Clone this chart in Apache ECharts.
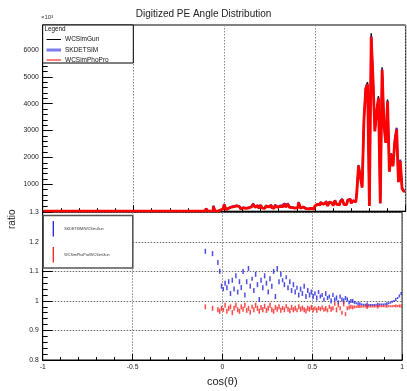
<!DOCTYPE html>
<html>
<head>
<meta charset="utf-8">
<script src="https://cdn.jsdelivr.net/npm/echarts@6/dist/echarts.min.js"></script>
<style>html,body{margin:0;padding:0;background:#fff}#c{width:407px;height:391px}</style>
</head>
<body>
<div id="c"></div>
<script>
// ---- data (bins of width 0.01 starting at cos = -0.10) ----
const binStart = -0.10;
const binWidth = 0.01;
const seriesNames = ['WCSimGun', 'SKDETSIM', 'WCSimPhoPro'];
const ratioNames = ['SKDETSIM/WCSimGun', 'WCSimPhoPro/WCSimGun'];
const xTicks = [-1, -0.5, 0, 0.5, 1];

// WCSimGun counts per bin
const gunCounts = [
  90, 0, 0, 0, 180, 0, 0, 40, 60, 100,
  260, 60, 110, 160, 120, 180, 200, 140, 170, 90,
  130, 110, 70, 130, 160, 120, 260, 150, 210, 110,
  230, 120, 110, 200, 160, 230, 140, 110, 220, 150,
  180, 210, 180, 270, 160, 270, 150, 140, 120, 170,
  130, 330, 110, 160, 100, 120, 90, 110, 120, 80,
  200, 260, 240, 330, 270, 300, 380, 200, 350, 300,
  210, 400, 260, 240, 370, 450, 260, 250, 420, 450,
  300, 400, 350, 650, 1720, 1300, 900, 3480, 4650, 4800,
  200, 6620, 4980, 3030, 3780, 4280, 300, 5360, 3280, 2590,
  4160, 1500, 2150, 1700, 2640, 3100, 1100, 1900, 850, 750
];

// SKDETSIM / WCSimGun ratio per bin
const skRatio = [
  1.168, null, null, null, 1.16, null, null, 1.13, 1.10, 1.05,
  1.04, 1.06, 1.045, 1.065, 1.025, 1.07, 1.04, 1.085, 1.03, 1.065,
  1.045, 1.10, 1.02, 1.065, 1.11, 1.05, 1.075, 1.035, 1.09, 1.055,
  1.005, 1.07, 1.045, 1.085, 1.06, 1.03, 1.075, 1.05, 1.10, 1.015,
  1.11, 1.065, 1.09, 1.07, 1.055, 1.08, 1.045, 1.065, 1.035, 1.055,
  1.03, 1.045, 1.02, 1.04, 1.025, 1.05, 1.015, 1.035, 1.02, 1.03,
  1.015, 1.025, 1.01, 1.03, 1.015, 1.02, 1.005, 1.025, 1.01, 1.015,
  1.0, 1.02, 1.005, 1.01, 0.995, 1.015, 1.005, 1.0, 1.01, 1.005,
  0.995, 1.0, 1.0, 0.995, 0.992, 0.99, 0.99, 0.988, 0.987, 0.987,
  0.986, 0.986, 0.986, 0.986, 0.986, 0.987, 0.987, 0.988, 0.988, 0.988,
  0.989, 0.99, 0.992, 0.994, 0.997, 1.0, 1.005, 1.01, 1.017, 1.025
];

// WCSimPhoPro / WCSimGun ratio per bin
const phoRatio = [
  0.98, null, null, null, 0.975, null, null, 0.97, 0.965, 0.975,
  0.97, 0.985, 0.965, 0.975, 0.98, 0.96, 0.975, 0.985, 0.97, 0.965,
  0.98, 0.972, 0.985, 0.968, 0.975, 0.962, 0.98, 0.97, 0.985, 0.975,
  0.965, 0.978, 0.97, 0.982, 0.968, 0.975, 0.985, 0.97, 0.965, 0.978,
  0.972, 0.98, 0.968, 0.976, 0.97, 0.982, 0.972, 0.967, 0.978, 0.97,
  0.975, 0.968, 0.98, 0.972, 0.976, 0.97, 0.966, 0.975, 0.972, 0.978,
  0.97, 0.975, 0.968, 0.976, 0.972, 0.978, 0.97, 0.974, 0.968, 0.98,
  0.972, 0.975, 0.99, 0.97, 0.985, 0.975, 0.96, 0.99, 0.955, 0.975,
  0.978, 0.98, 0.978, 0.98, 0.98, 0.981, 0.981, 0.981, 0.981, 0.981,
  0.981, 0.981, 0.981, 0.981, 0.981, 0.981, 0.981, 0.982, 0.982, 0.982,
  0.982, 0.982, 0.982, 0.982, 0.982, 0.983, 0.983, 0.983, 0.983, 0.983
];

// ---- build library data ----
const centers = gunCounts.map((_, i) => +(binStart + (i + 0.5) * binWidth).toFixed(3));
function histData(counts) {
  const d = [[-0.995, 0], [binStart - binWidth / 2, 0]];
  counts.forEach((v, i) => d.push([centers[i], v]));
  return d;
}
const skCounts = gunCounts.map((v, i) => skRatio[i] == null ? v : Math.round(v * skRatio[i]));
const phoCounts = gunCounts.map((v, i) => phoRatio[i] == null ? v : Math.round(v * phoRatio[i]));
function ratioData(r) {
  const d = [];
  r.forEach((v, i) => { if (v != null) d.push([centers[i], v, gunCounts[i]]); });
  return d;
}
function errSize(v) {
  const n = v[2];
  return [1.5, n > 1500 ? 2 : n > 600 ? 3 : n > 250 ? 4 : 5];
}

const FONT = 'Liberation Sans, Arial, sans-serif';
const L = 42.7, R = 1.3;
const chart = echarts.init(document.getElementById('c'), null, { renderer: 'canvas' });

const commonX = {
  type: 'value', min: -1, max: 1, interval: 0.5,
  axisLine: { show: true, onZero: false, lineStyle: { color: '#000', width: 1 } },
  axisTick: { show: true, inside: true, length: 6, lineStyle: { color: '#000' } },
  minorTick: { show: true, splitNumber: 5, length: 3, lineStyle: { color: '#000' } },
  splitLine: { show: true, lineStyle: { color: '#888', type: [1.5, 1.5], width: 1 } },
  minorSplitLine: { show: false }
};

chart.setOption({
  animation: false,
  backgroundColor: '#fff',
  title: {
    text: 'Digitized PE Angle Distribution', left: 'center', top: 4,
    textStyle: { fontFamily: FONT, fontSize: 10, fontWeight: 'normal', color: '#222' }
  },
  grid: [
    { left: L, right: R, top: 25, height: 186.2, show: true, borderColor: '#000', borderWidth: 1, backgroundColor: 'transparent' },
    { left: L, right: R, top: 212.3, height: 147.7, show: true, borderColor: '#000', borderWidth: 1, backgroundColor: 'transparent' }
  ],
  xAxis: [
    Object.assign({}, commonX, { gridIndex: 0, axisLabel: { show: false } }),
    Object.assign({}, commonX, {
      gridIndex: 1,
      axisLabel: {
        show: true, margin: 4, fontFamily: FONT, fontSize: 6.8, color: '#222',
        formatter: v => (xTicks.some(t => Math.abs(t - v) < 1e-6) ? String(+v.toFixed(2)) : '')
      }
    })
  ],
  yAxis: [
    {
      gridIndex: 0, type: 'value', min: 0, max: 6930, interval: 1000,
      axisLine: { show: true, onZero: false, lineStyle: { color: '#000' } },
      axisTick: { show: true, inside: true, length: 10, lineStyle: { color: '#000' } },
      minorTick: { show: true, splitNumber: 5, length: 5, lineStyle: { color: '#000' } },
      splitLine: { show: false },
      axisLabel: {
        margin: 4, fontFamily: FONT, fontSize: 6.8, color: '#222', showMaxLabel: false,
        formatter: v => (v > 0 && v % 1000 === 0 ? String(v) : '')
      }
    },
    {
      gridIndex: 1, type: 'value', min: 0.8, max: 1.3, interval: 0.1,
      axisLine: { show: true, onZero: false, lineStyle: { color: '#000' } },
      axisTick: { show: true, inside: true, length: 10, lineStyle: { color: '#000' } },
      minorTick: { show: true, splitNumber: 5, length: 5, lineStyle: { color: '#000' } },
      splitLine: { show: true, lineStyle: { color: '#666', type: [1.5, 1.5], width: 1 } },
      axisLabel: {
        margin: 4, fontFamily: FONT, fontSize: 6.8, color: '#222',
        formatter: v => String(+v.toFixed(2))
      }
    }
  ],
  series: [
    {
      name: seriesNames[0], type: 'line', step: 'middle', xAxisIndex: 0, yAxisIndex: 0,
      data: histData(gunCounts), showSymbol: false, symbol: 'none',
      lineStyle: { color: '#000', width: 1.4 }, z: 2
    },
    {
      name: seriesNames[1], type: 'line', step: 'middle', xAxisIndex: 0, yAxisIndex: 0,
      data: histData(skCounts), showSymbol: false, symbol: 'none',
      lineStyle: { color: '#3a2fb8', width: 2 }, z: 3
    },
    {
      name: seriesNames[2], type: 'line', step: 'middle', xAxisIndex: 0, yAxisIndex: 0,
      data: histData(phoCounts), showSymbol: false, symbol: 'none',
      lineStyle: { color: '#ff0000', width: 2.8 }, z: 4
    },
    {
      name: ratioNames[0], type: 'scatter', xAxisIndex: 1, yAxisIndex: 1,
      data: ratioData(skRatio), symbol: 'rect', symbolSize: errSize,
      itemStyle: { color: '#1f1fe0' }, z: 5
    },
    {
      name: ratioNames[1], type: 'scatter', xAxisIndex: 1, yAxisIndex: 1,
      data: ratioData(phoRatio), symbol: 'rect', symbolSize: errSize,
      itemStyle: { color: '#ff1a1a' }, z: 5
    }
  ],
  graphic: [
    // exponent marker
    { type: 'text', left: 41, top: 14, z: 200, style: { text: '×10³', fontFamily: FONT, fontSize: 6, fill: '#333' } },
    // top legend
    { type: 'rect', shape: { x: 42.7, y: 25, width: 90.6, height: 38 }, style: { fill: '#fff', stroke: '#000', lineWidth: 1 }, z: 100 },
    { type: 'text', x: 44.5, y: 26, z: 101, style: { text: 'Legend', fontFamily: FONT, fontSize: 6.3, fill: '#111' } },
    { type: 'line', shape: { x1: 46.5, y1: 39.5, x2: 61, y2: 39.5 }, style: { stroke: '#000', lineWidth: 1 }, z: 101 },
    { type: 'text', x: 65, y: 36, z: 101, style: { text: seriesNames[0], fontFamily: FONT, fontSize: 6.5, fill: '#111' } },
    { type: 'line', shape: { x1: 46.5, y1: 50, x2: 61, y2: 50 }, style: { stroke: '#7c7cee', lineWidth: 3 }, z: 101 },
    { type: 'text', x: 65, y: 46.5, z: 101, style: { text: seriesNames[1], fontFamily: FONT, fontSize: 6.5, fill: '#111' } },
    { type: 'line', shape: { x1: 46.5, y1: 60, x2: 61, y2: 60 }, style: { stroke: '#ff0000', lineWidth: 1 }, z: 101 },
    { type: 'text', x: 65, y: 56.5, z: 101, style: { text: seriesNames[2], fontFamily: FONT, fontSize: 6.5, fill: '#111' } },
    // bottom legend
    { type: 'rect', shape: { x: 43.2, y: 215.5, width: 89.6, height: 52.5 }, style: { fill: '#fff', stroke: '#555', lineWidth: 1.6 }, z: 100 },
    { type: 'line', shape: { x1: 53.3, y1: 221, x2: 53.3, y2: 236.5 }, style: { stroke: '#1f1fe0', lineWidth: 1.3 }, z: 101 },
    { type: 'text', x: 64.3, y: 226.5, z: 101, style: { text: ratioNames[0], fontFamily: FONT, fontSize: 3.7, fill: '#333' } },
    { type: 'line', shape: { x1: 53.3, y1: 247, x2: 53.3, y2: 262.5 }, style: { stroke: '#ff1a1a', lineWidth: 1.3 }, z: 101 },
    { type: 'text', x: 64.3, y: 252.5, z: 101, style: { text: ratioNames[1], fontFamily: FONT, fontSize: 3.7, fill: '#333' } },
    // axis titles
    { type: 'text', x: 7, y: 229, rotation: Math.PI / 2, z: 101, style: { text: 'ratio', fontFamily: FONT, fontSize: 10, fill: '#222' } },
    { type: 'text', left: 207, top: 376, z: 101, style: { text: 'cos(θ)', fontFamily: FONT, fontSize: 11, fill: '#222' } }
  ]
});
</script>
</body>
</html>
